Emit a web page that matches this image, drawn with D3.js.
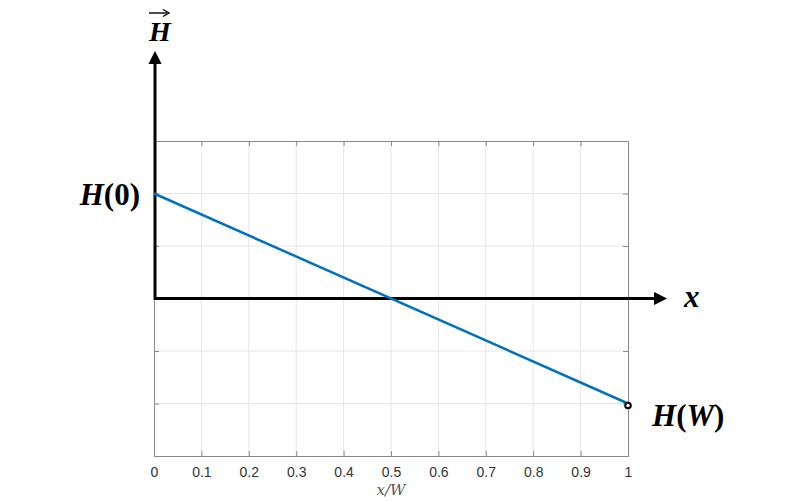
<!DOCTYPE html>
<html>
<head>
<meta charset="utf-8">
<script src="https://cdn.jsdelivr.net/npm/d3@7"></script>
<style>
  body { margin: 0; background: #fff; }
  svg { display: block; }
  .lbl { font-family: "Liberation Serif", "DejaVu Serif", serif; font-weight: bold; fill: #000; }
  .it { font-style: italic; }
</style>
</head>
<body>
<div id="chart"></div>
<script>
// data
var xVals = [0, 1];
var hVals = [2, -2];
var xTicks = [0, 0.1, 0.2, 0.3, 0.4, 0.5, 0.6, 0.7, 0.8, 0.9, 1];
var yTicks = [-3, -2, -1, 0, 1, 2, 3];

var W = 800, H = 501;
var box = {left: 154, right: 628, top: 141, bottom: 456};

var svg = d3.select("#chart").append("svg")
    .attr("width", W).attr("height", H);

var x = d3.scaleLinear().domain([0, 1]).range([box.left, box.right]);
var y = d3.scaleLinear().domain([-3, 3]).range([box.bottom, box.top]);

// grid
svg.append("g").selectAll("line.vg")
    .data(xTicks.slice(1, -1)).enter().append("line")
    .attr("x1", d => x(d)).attr("x2", d => x(d))
    .attr("y1", box.top).attr("y2", box.bottom)
    .attr("stroke", "#e6e6e6").attr("stroke-width", 1);
svg.append("g").selectAll("line.hg")
    .data(yTicks.slice(1, -1)).enter().append("line")
    .attr("x1", box.left).attr("x2", box.right)
    .attr("y1", d => y(d)).attr("y2", d => y(d))
    .attr("stroke", "#e6e6e6").attr("stroke-width", 1);

// axes (box)
var xb = svg.append("g").attr("transform", "translate(0," + box.bottom + ")")
    .call(d3.axisBottom(x).tickValues(xTicks).tickSize(-5).tickPadding(11)
      .tickFormat(d => d === 0 || d === 1 ? d3.format("d")(d) : d3.format(".1f")(d)));
xb.attr("font-size", 14).attr("font-family", "Liberation Sans, Arial, sans-serif");
xb.selectAll(".tick text").attr("fill", "#333");
var xt = svg.append("g").attr("transform", "translate(0," + box.top + ")")
    .call(d3.axisTop(x).tickValues(xTicks).tickSize(-5).tickFormat(""));
var yl = svg.append("g").attr("transform", "translate(" + box.left + ",0)")
    .call(d3.axisLeft(y).tickValues(yTicks).tickSize(-5).tickFormat(""));
var yr = svg.append("g").attr("transform", "translate(" + box.right + ",0)")
    .call(d3.axisRight(y).tickValues(yTicks).tickSize(-5).tickFormat(""));
[xb, xt, yl, yr].forEach(function(g) {
  g.selectAll(".domain").attr("stroke", "#8a8a8a");
  g.selectAll(".tick line").attr("stroke", "#8a8a8a");
});

svg.append("text")
    .attr("x", x(0.5)).attr("y", 495)
    .attr("text-anchor", "middle")
    .style("font-family", "'DejaVu Serif', serif").style("font-style", "italic")
    .style("font-size", "15px").attr("fill", "#555")
    .text("x/W");

// black arrow axes
var defs = svg.append("defs");
defs.append("marker").attr("id", "arr")
    .attr("viewBox", "0 0 10 10").attr("refX", 1).attr("refY", 5)
    .attr("markerWidth", 4.5).attr("markerHeight", 4.5).attr("orient", "auto")
  .append("path").attr("d", "M0,0L10,5L0,10z").attr("fill", "#000");

svg.append("line")
    .attr("x1", box.left + 1).attr("x2", box.left + 1)
    .attr("y1", y(0) + 1.5).attr("y2", 63)
    .attr("stroke", "#000").attr("stroke-width", 3)
    .attr("marker-end", "url(#arr)");
svg.append("line")
    .attr("x1", box.left).attr("x2", 655)
    .attr("y1", y(0)).attr("y2", y(0))
    .attr("stroke", "#000").attr("stroke-width", 3)
    .attr("marker-end", "url(#arr)");

// the line
svg.append("path")
    .datum(xVals.map((d, i) => [d, hVals[i]]))
    .attr("d", d3.line().x(d => x(d[0])).y(d => y(d[1])))
    .attr("fill", "none").attr("stroke", "#0072bd").attr("stroke-width", 2.5);

svg.append("circle")
    .attr("cx", x(1)).attr("cy", y(-2) + 2).attr("r", 2.8)
    .attr("fill", "#fff").attr("stroke", "#000").attr("stroke-width", 2);

// labels: italic letter, upright parens and digits
function mathLabel(px, py, anchor, size, parts) {
  var t = svg.append("text").attr("class", "lbl")
      .attr("x", px).attr("y", py).attr("text-anchor", anchor)
      .style("font-size", size + "px");
  parts.forEach(function(p) {
    t.append("tspan").attr("class", p[1] ? "it" : null).text(p[0]);
  });
  return t;
}
mathLabel(140, y(2) + 11, "end", 31, [["H", 1], ["(", 0], ["0", 0], [")", 0]]);
mathLabel(652, 426, "start", 31, [["H", 1], ["(", 0], ["W", 1], [")", 0]]);
mathLabel(684, 307, "start", 31, [["x", 1]]);
mathLabel(160, 41, "middle", 28, [["H", 1]]);
svg.append("line")
    .attr("x1", 149).attr("x2", 167).attr("y1", 13).attr("y2", 13)
    .attr("stroke", "#000").attr("stroke-width", 1.4);
svg.append("path")
    .attr("d", "M163,9.5L169,13L163,16.5").attr("fill", "none")
    .attr("stroke", "#000").attr("stroke-width", 1.4);
</script>
</body>
</html>
